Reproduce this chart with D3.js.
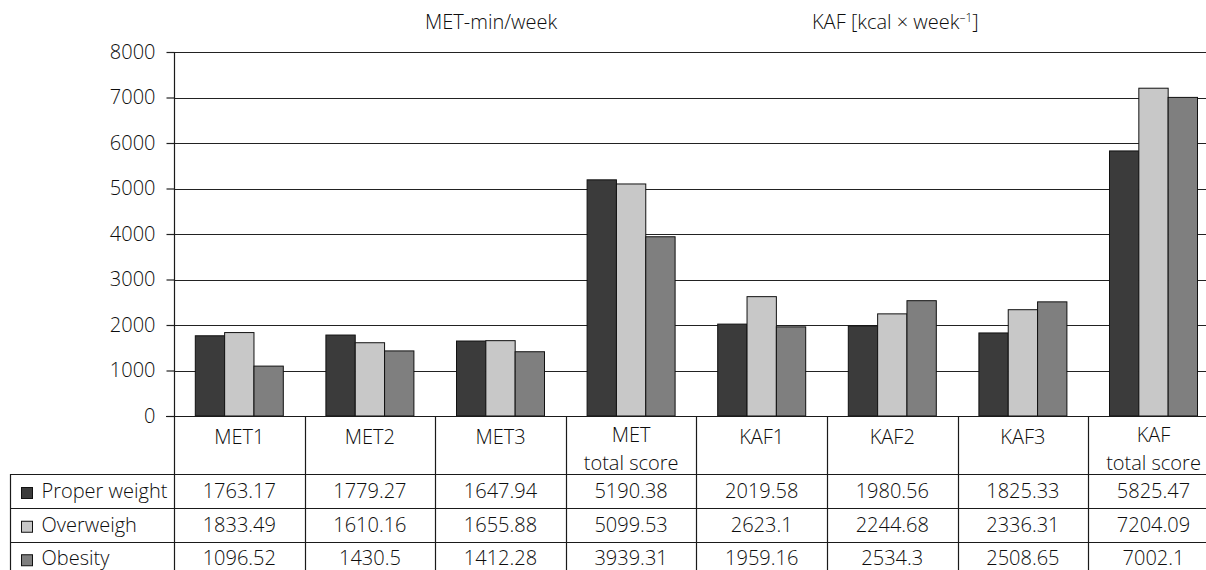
<!DOCTYPE html>
<html>
<head>
<meta charset="utf-8">
<script src="https://cdn.jsdelivr.net/npm/d3@7"></script>
<style>
  html, body { margin: 0; padding: 0; background: #fff; }
  svg { display: block; }
  text { font-family: "Open Sans", "Noto Sans", sans-serif; font-weight: 300; fill: #0d0d0d; }
</style>
</head>
<body>
<svg id="chart" width="1206" height="570"></svg>
<script>
// ---- data ----
const categories = ["MET1", "MET2", "MET3", "MET total score", "KAF1", "KAF2", "KAF3", "KAF total score"];
const categoryLines = [["MET1"], ["MET2"], ["MET3"], ["MET", "total score"], ["KAF1"], ["KAF2"], ["KAF3"], ["KAF", "total score"]];
const seriesNames = ["Proper weight", "Overweigh", "Obesity"];
const properWeight = [1763.17, 1779.27, 1647.94, 5190.38, 2019.58, 1980.56, 1825.33, 5825.47];
const overweigh   = [1833.49, 1610.16, 1655.88, 5099.53, 2623.1, 2244.68, 2336.31, 7204.09];
const obesity     = [1096.52, 1430.5, 1412.28, 3939.31, 1959.16, 2534.3, 2508.65, 7002.1];
const seriesValues = [properWeight, overweigh, obesity];
const yTicks = [0, 1000, 2000, 3000, 4000, 5000, 6000, 7000, 8000];
const groupLabels = ["MET-min/week", "KAF [kcal × week"];

// ---- styles / layout ----
const colors = ["#3b3b3b", "#c8c8c8", "#7f7f7f"];
const FS = 20;
const plotLeft = 174, catW = 130.6;
const yTop = 52, yZero = 416;
const tableLeft = 10;
const rowLines = [474, 508, 541.5, 575];

const svg = d3.select("#chart");

const x = d3.scaleBand().domain(categories).range([plotLeft, plotLeft + catW * categories.length]).padding(0);
const xs = d3.scaleBand().domain(seriesNames).range([21.3, 21.3 + 88]).padding(0);
const y = d3.scaleLinear().domain([0, 8000]).range([yZero, yTop]);

// gridlines
svg.append("g").selectAll("line").data(yTicks.filter(d => d > 0)).join("line")
  .attr("x1", plotLeft).attr("x2", 1206)
  .attr("y1", d => Math.round(y(d)) + 0.5).attr("y2", d => Math.round(y(d)) + 0.5)
  .attr("stroke", "#222").attr("stroke-width", 1.2);

// y axis
const yAxis = d3.axisLeft(y).tickValues(yTicks).tickSize(8).tickSizeOuter(0).tickPadding(11).tickFormat(d3.format("d"));
const ya = svg.append("g").attr("transform", `translate(${plotLeft + 0.5},0)`).call(yAxis);
ya.select(".domain").remove();
ya.selectAll(".tick line").attr("stroke", "#222").attr("stroke-width", 1.2);
ya.selectAll(".tick text").attr("font-size", FS).attr("fill", "#0d0d0d")
  .style("font-family", '"Open Sans", "Noto Sans", sans-serif').style("font-weight", 300);

// bars
const groups = svg.append("g").selectAll("g").data(categories).join("g")
  .attr("transform", d => `translate(${x(d)},0)`);
groups.selectAll("rect").data((c, i) => seriesNames.map((s, k) => ({ s, k, v: seriesValues[k][i] }))).join("rect")
  .attr("x", d => xs(d.s)).attr("width", xs.bandwidth())
  .attr("y", d => y(d.v)).attr("height", d => yZero - y(d.v))
  .attr("fill", d => colors[d.k]).attr("stroke", "#111").attr("stroke-width", 1);

// group titles
svg.append("text").attr("x", 425).attr("y", 29).attr("font-size", FS).text(groupLabels[0]);
const kt = svg.append("text").attr("x", 812).attr("y", 29).attr("font-size", FS);
kt.append("tspan").text(groupLabels[1]);
kt.append("tspan").attr("font-size", 12).attr("dy", -7).text("–1");
kt.append("tspan").attr("dy", 7).text("]");

// table lines
const tl = svg.append("g").attr("stroke", "#1a1a1a").attr("stroke-width", 1.2);
tl.append("line").attr("x1", plotLeft - 8).attr("x2", 1206).attr("y1", yZero + 0.5).attr("y2", yZero + 0.5);
tl.append("line").attr("x1", plotLeft + 0.5).attr("x2", plotLeft + 0.5).attr("y1", yTop).attr("y2", 575);
tl.selectAll(".sep").data(categories.slice(1)).join("line").attr("class", "sep")
  .attr("x1", d => Math.round(x(d)) + 0.5).attr("x2", d => Math.round(x(d)) + 0.5)
  .attr("y1", yZero).attr("y2", 575);
tl.append("line").attr("x1", tableLeft + 0.5).attr("x2", tableLeft + 0.5).attr("y1", rowLines[0]).attr("y2", 575);
tl.selectAll(".row").data(rowLines).join("line").attr("class", "row")
  .attr("x1", tableLeft).attr("x2", 1206)
  .attr("y1", d => Math.round(d) + 0.5).attr("y2", d => Math.round(d) + 0.5);

// header labels (multi-line as tspans of one text)
const hdr = svg.append("g").attr("font-size", FS).attr("text-anchor", "middle");
categories.forEach((c, i) => {
  const cx = x(c) + x.bandwidth() / 2;
  const multi = categoryLines[i].length > 1;
  const t = hdr.append("text").attr("x", cx).attr("y", multi ? 442 : 444);
  categoryLines[i].forEach((ln, j) => {
    t.append("tspan").attr("x", cx).attr("dy", j === 0 ? 0 : 27.5).text(ln);
  });
});

// rows
seriesNames.forEach((s, k) => {
  const cy = (rowLines[k] + rowLines[k + 1]) / 2;
  svg.append("rect").attr("x", 21.5).attr("y", cy - 3.5).attr("width", 11).attr("height", 11)
    .attr("fill", colors[k]).attr("stroke", "#111").attr("stroke-width", 1);
  svg.append("text").attr("x", 41.5).attr("y", cy + 7).attr("font-size", FS).text(s);
  categories.forEach((c, i) => {
    svg.append("text").attr("x", x(c) + x.bandwidth() / 2).attr("y", cy + 7)
      .attr("font-size", FS).attr("text-anchor", "middle").text(seriesValues[k][i]);
  });
});
</script>
</body>
</html>
